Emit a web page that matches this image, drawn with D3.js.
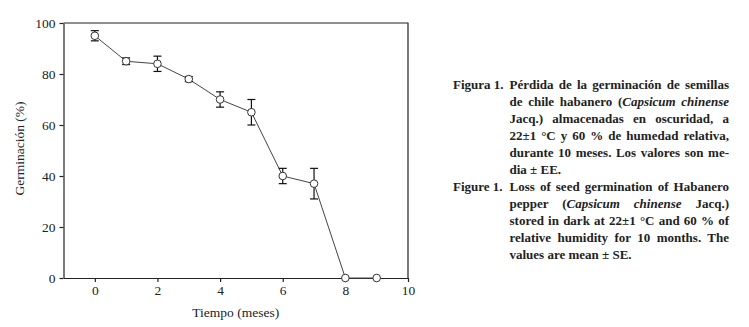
<!DOCTYPE html>
<html>
<head>
<meta charset="utf-8">
<script src="https://cdn.jsdelivr.net/npm/d3@7"></script>
<style>
  body { margin: 0; background: #fff; }
  svg { display: block; }
  text { font-family: "Liberation Serif", "DejaVu Serif", serif; fill: #222; }
</style>
</head>
<body>
<div id="chart"></div>
<script>
// Germination loss of habanero pepper seeds over storage months
const months = [0, 1, 2, 3, 4, 5, 6, 7, 8, 9];
const germination = [95, 85, 84, 78, 70, 65, 40, 37, 0, 0];
const stdErr = [2, 1.3, 3, 1, 3, 5, 3, 6, 0, 0];
const xTicks = [0, 2, 4, 6, 8, 10];
const yTicks = [0, 20, 40, 60, 80, 100];

// caption lines: [label, segments, justify]; segments are [text, italic]
const captionLines = [
  ['Figura 1.', [['Pérdida de la germinación de semillas', false]], true],
  ['', [['de chile habanero (', false], ['Capsicum chinense', true]], true],
  ['', [['Jacq.) almacenadas en oscuridad, a', false]], true],
  ['', [['22±1 °C y 60 % de humedad relativa,', false]], true],
  ['', [['durante 10 meses. Los valores son me-', false]], true],
  ['', [['dia ± EE.', false]], false],
  ['Figure 1.', [['Loss of seed germination of Habanero', false]], true],
  ['', [['pepper (', false], ['Capsicum chinense', true], [' Jacq.)', false]], true],
  ['', [['stored in dark at 22±1 °C and 60 % of', false]], true],
  ['', [['relative humidity for 10 months. The', false]], true],
  ['', [['values are mean ± SE.', false]], false]
];

const W = 749, H = 327;
const margin = { top: 23, left: 63.5, right: 341, bottom: 49 };
const width = W - margin.left - margin.right;
const height = H - margin.top - margin.bottom;

const svg = d3.select('#chart').append('svg')
  .attr('width', W)
  .attr('height', H);

const g = svg.append('g')
  .attr('transform', `translate(${margin.left},${margin.top})`);

const x = d3.scaleLinear().domain([-1, 10]).range([0, width]);
const y = d3.scaleLinear().domain([0, 100]).range([height, 0]);

// Axes
const xAxis = g.append('g')
  .attr('transform', `translate(0,${height})`)
  .call(d3.axisBottom(x).tickValues(xTicks).tickSize(4).tickPadding(3).tickSizeOuter(0));
const yAxis = g.append('g')
  .call(d3.axisLeft(y).tickValues(yTicks).tickSize(4).tickPadding(4).tickSizeOuter(0));
[xAxis, yAxis].forEach(a => {
  a.select('.domain').attr('stroke', '#222').attr('stroke-width', 1.2);
  a.selectAll('.tick line').attr('stroke', '#222').attr('stroke-width', 1.2);
  a.selectAll('.tick text').attr('fill', '#222')
    .style('font-family', '"Liberation Serif", serif').style('font-size', '13.5px');
});

// top and right frame
g.append('path')
  .attr('d', `M0,0H${width}V${height}`)
  .attr('fill', 'none').attr('stroke', '#222').attr('stroke-width', 1.2);

// Axis labels
g.append('text')
  .attr('x', width / 2).attr('y', height + 39)
  .attr('text-anchor', 'middle').style('font-size', '13.5px')
  .text('Tiempo (meses)');
g.append('text')
  .attr('transform', 'rotate(-90)')
  .attr('x', -height / 2 + 2).attr('y', -margin.left + 24)
  .attr('text-anchor', 'middle').style('font-size', '13.5px')
  .text('Germinación (%)');

const data = months.map((m, i) => ({ m, v: germination[i], e: stdErr[i] }));

// Line
g.append('path')
  .datum(data)
  .attr('fill', 'none').attr('stroke', '#444').attr('stroke-width', 1)
  .attr('d', d3.line().x(d => x(d.m)).y(d => y(d.v)));

// Error bars
const eb = g.selectAll('.err').data(data.filter(d => d.e > 0)).join('g').attr('class', 'err')
  .attr('stroke', '#111').attr('stroke-width', 1.2);
eb.append('line')
  .attr('x1', d => x(d.m)).attr('x2', d => x(d.m))
  .attr('y1', d => y(d.v - d.e)).attr('y2', d => y(d.v + d.e));
eb.append('line')
  .attr('x1', d => x(d.m) - 4).attr('x2', d => x(d.m) + 4)
  .attr('y1', d => y(d.v + d.e)).attr('y2', d => y(d.v + d.e));
eb.append('line')
  .attr('x1', d => x(d.m) - 4).attr('x2', d => x(d.m) + 4)
  .attr('y1', d => y(d.v - d.e)).attr('y2', d => y(d.v - d.e));

// Markers
g.selectAll('.pt').data(data).join('circle').attr('class', 'pt')
  .attr('cx', d => x(d.m)).attr('cy', d => y(d.v)).attr('r', 3.8)
  .attr('fill', '#fff').attr('stroke', '#333').attr('stroke-width', 1);

// Caption
const cap = svg.append('g').style('font-weight', 'bold').style('font-size', '13px');
const labelX = 453, textX = 509.5, rightX = 729, firstBase = 89, lineH = 17;
captionLines.forEach(([label, segs, justify], i) => {
  const yy = firstBase + i * lineH;
  if (label) cap.append('text').attr('x', labelX).attr('y', yy).text(label);
  const t = cap.append('text').attr('x', textX).attr('y', yy);
  segs.forEach(([s, it]) => {
    t.append('tspan').style('font-style', it ? 'italic' : 'normal').text(s);
  });
  if (justify) {
    const natural = t.node().getComputedTextLength();
    const full = segs.map(s => s[0]).join('');
    const spaces = (full.match(/ /g) || []).length;
    if (spaces > 0) t.style('word-spacing', ((rightX - textX - natural) / spaces) + 'px');
  }
});
</script>
</body>
</html>
